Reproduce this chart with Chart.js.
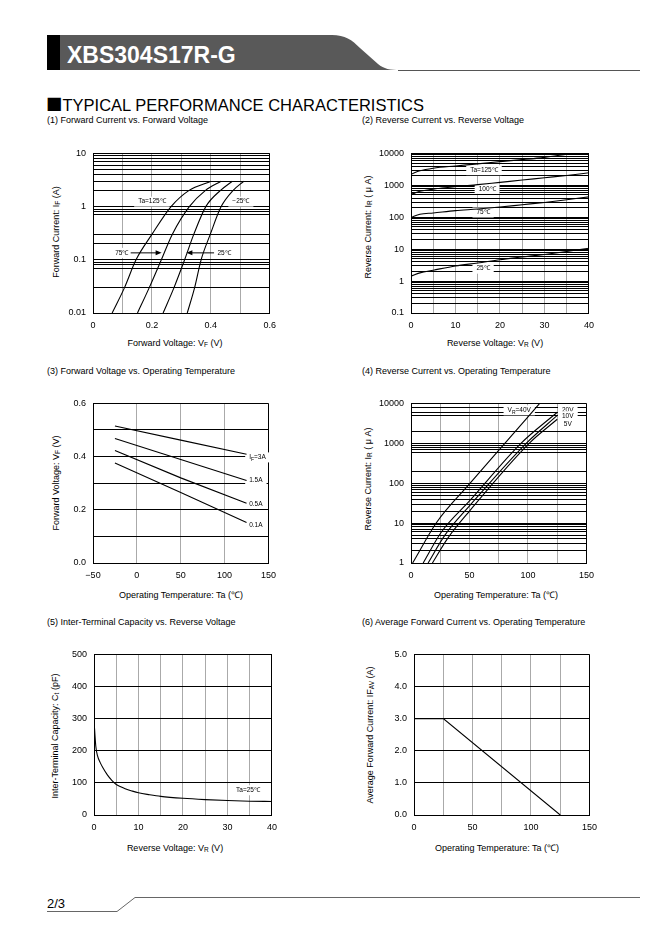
<!DOCTYPE html>
<html>
<head>
<meta charset="utf-8">
<script src="https://cdn.jsdelivr.net/npm/chart.js@4.4.1/dist/chart.umd.min.js"></script>
<style>
body { margin: 0; background: #fff; font-family: "Liberation Sans", Arial, sans-serif; color: #000; }
#page { position: relative; width: 662px; height: 936px; overflow: hidden; }
.t { position: absolute; white-space: nowrap; font-size: 9px; line-height: 1; }
.xt { transform: translate(-50%, -50%); }
.yt { transform: translate(-50%, -50%) rotate(-90deg); }
.sq { font-family: "Noto Sans CJK JP", "DejaVu Sans", sans-serif; }
sub { font-size: 6.5px; vertical-align: -1px; line-height: 0; }
canvas { position: absolute; }
</style>
</head>
<body>
<div id="page">
<svg width="662" height="936" style="position:absolute;left:0;top:0">
  <path d="M47 35 H332 C345 35 352 40 360 48 L378 64 C384 69 390 70 400 70 H47 Z" fill="#595959"/>
  <rect x="47" y="35" width="13" height="35" fill="#000"/>
  <line x1="398" y1="70.5" x2="640" y2="70.5" stroke="#555" stroke-width="1"/>
  <polyline points="47,911.5 117,911.5 135,897.5 640,897.5" fill="none" stroke="#666" stroke-width="1"/>
</svg>
<div class="t" style="left:67px;top:44px;font-size:23px;font-weight:bold;color:#fff">XBS304S17R-G</div>
<div class="t" style="left:46px;top:96px;font-size:16.5px"><span class="sq">■</span>TYPICAL PERFORMANCE CHARACTERISTICS</div>

<div class="t" style="left:47px;top:116px">(1) Forward Current vs. Forward Voltage</div>
<div class="t" style="left:362px;top:116px">(2) Reverse Current vs. Reverse Voltage</div>
<div class="t" style="left:47px;top:367px">(3) Forward Voltage vs. Operating Temperature</div>
<div class="t" style="left:362px;top:367px">(4) Reverse Current vs. Operating Temperature</div>
<div class="t" style="left:47px;top:618px">(5) Inter-Terminal Capacity vs. Reverse Voltage</div>
<div class="t" style="left:362px;top:618px">(6) Average Forward Current vs. Operating Temperature</div>

<div class="t yt" style="left:56px;top:232px">Forward Current: I<sub>F</sub> (A)</div>
<div class="t xt" style="left:175px;top:343px">Forward Voltage: V<sub>F</sub> (V)</div>
<div class="t yt" style="left:368px;top:227px">Reverse Current: I<sub>R</sub> ( μ A)</div>
<div class="t xt" style="left:495px;top:343px">Reverse Voltage: V<sub>R</sub> (V)</div>
<div class="t yt" style="left:56px;top:483px">Forward Voltage: V<sub>F</sub> (V)</div>
<div class="t xt" style="left:181px;top:595px">Operating Temperature: Ta (℃)</div>
<div class="t yt" style="left:368px;top:479px">Reverse Current: I<sub>R</sub> ( μ A)</div>
<div class="t xt" style="left:496px;top:595px">Operating Temperature: Ta (℃)</div>
<div class="t yt" style="left:55px;top:736px">Inter-Terminal Capacity: C<sub>t</sub> (pF)</div>
<div class="t xt" style="left:175px;top:848px">Reverse Voltage: V<sub>R</sub> (V)</div>
<div class="t yt" style="left:370px;top:735px">Average Forward Current: IF<sub>AV</sub> (A)</div>
<div class="t xt" style="left:497px;top:848px">Operating Temperature: Ta (℃)</div>

<div class="t" style="left:47px;top:897px;font-size:13px">2/3</div>

<canvas id="c1"></canvas>
<canvas id="c2"></canvas>
<canvas id="c3"></canvas>
<canvas id="c4"></canvas>
<canvas id="c5"></canvas>
<canvas id="c6"></canvas>
</div>

<script>
// (1) Forward current vs forward voltage, currents shared by all curves
const fvCurrent  = [0.01, 0.03, 0.1, 0.3, 1, 2, 3];
const fvVolt125  = [0.065, 0.107, 0.146, 0.2, 0.265, 0.325, 0.401];
const fvVolt75   = [0.151, 0.191, 0.232, 0.269, 0.327, 0.381, 0.435];
const fvVolt25   = [0.238, 0.275, 0.311, 0.342, 0.383, 0.432, 0.473];
const fvVoltM25  = [0.32, 0.345, 0.367, 0.398, 0.435, 0.475, 0.512];
const fvXTicks   = [0, 0.1, 0.2, 0.3, 0.4, 0.5, 0.6];
const fvXLabels  = [0, 0.2, 0.4, 0.6];
const fvYTicks   = [0.01, 0.03, 0.07, 0.08, 0.09, 0.1, 0.2, 0.3, 0.7, 0.8, 0.9, 1, 2, 3, 4, 5, 6, 7, 8, 9, 10];
const fvYLabels  = [0.01, 0.1, 1, 10];

// (2) Reverse current (uA) vs reverse voltage
const rvVolt     = [0, 2, 5, 10, 15, 20, 25, 30, 35, 40];
const rv125      = [2240, 2850, 3440, 4050, 4690, 5520, 6370, 7520, 9500];
const rv100      = [515, 650, 760, 910, 1050, 1240, 1460, 1730, 2040, 2470];
const rv75       = [98, 124, 136, 161, 181, 209, 247, 291, 352, 436];
const rv25       = [1.43, 1.81, 2.19, 2.98, 3.69, 4.68, 5.66, 6.84, 8.47, 10.7];
const rvXTicks   = [0, 5, 10, 15, 20, 25, 30, 35, 40];
const rvXLabels  = [0, 10, 20, 30, 40];
const rvYLabels  = [0.1, 1, 10, 100, 1000, 10000];

// (3) Forward voltage vs operating temperature
const vtTemp     = [-25, 50, 125];
const vt3A       = [0.515, 0.462, 0.409];
const vt15A      = [0.468, 0.389, 0.310];
const vt05A      = [0.423, 0.320, 0.225];
const vt01A      = [0.376, 0.265, 0.152];
const vtXTicks   = [-50, 0, 50, 100, 150];
const vtYTicks   = [0, 0.1, 0.2, 0.3, 0.4, 0.5, 0.6];
const vtYLabels  = [0, 0.2, 0.4, 0.6];

// (4) Reverse current (uA) vs operating temperature
const rtTemp40   = [1.4, 22, 50, 80, 110];
const rt40       = [1, 10.5, 96, 980, 10000];
const rtTemp20   = [10.4, 26, 50, 94, 125];
const rt20       = [1, 6, 36, 1000, 6000];
const rtTemp10   = [14.6, 29, 50, 98.5, 125];
const rt10       = [1, 5, 27, 1000, 5000];
const rtTemp5    = [18.3, 31.5, 50, 101, 125];
const rt5        = [1, 4.2, 20, 1000, 4000];
const rtXTicks   = [0, 25, 50, 75, 100, 125, 150];
const rtXLabels  = [0, 50, 100, 150];
const rtYTicks   = [1, 2, 3, 4, 5, 6, 7, 8, 9, 10, 20, 30, 40, 50, 60, 70, 80, 90, 100, 200, 600, 700, 800, 900, 1000, 2000, 5000, 6000, 8000, 10000];
const rtYLabels  = [1, 10, 100, 1000, 10000];

// (5) Inter-terminal capacity vs reverse voltage
const ctVolt     = [0, 0.4, 0.8, 1.4, 2, 3, 4, 5, 6, 7, 8.5, 10, 12.5, 15, 20, 25, 30, 35, 40];
const ctCap      = [295, 215, 184, 163, 147, 125, 108, 95, 88, 82, 75, 69, 63, 58, 52, 48, 45, 43, 42];
const ctXTicks   = [0, 5, 10, 15, 20, 25, 30, 35, 40];
const ctXLabels  = [0, 10, 20, 30, 40];
const ctYTicks   = [0, 100, 200, 300, 400, 500];

// (6) Average forward current vs operating temperature
const ifTemp     = [0, 25, 125];
const ifAvg      = [3.0, 3.0, 0.0];
const ifXTicks   = [0, 25, 50, 75, 100, 125, 150];
const ifXLabels  = [0, 50, 100, 150];
const ifYTicks   = [0, 1, 2, 3, 4, 5];

const FONT = '"Liberation Sans", Arial, sans-serif';
Chart.defaults.font.family = FONT;

function near(list, v) {
  return list.some(a => Math.abs(a - v) <= Math.abs(a) * 1e-6 + 1e-9);
}

// minor log grid: 1..9 inside every decade
function decadeLines(decades) {
  const out = [];
  decades.forEach((d, i) => {
    if (i === decades.length - 1) { out.push(d); return; }
    for (let k = 1; k < 10; k++) out.push(d * k);
  });
  return out;
}

function richText(s) {
  const out = [];
  s.split(/(_\{[^}]*\})/).forEach(p => {
    if (!p) return;
    if (p.startsWith('_{')) out.push({ t: p.slice(2, -1), sub: true });
    else out.push({ t: p, sub: false });
  });
  return out;
}

// curve labels in data coordinates, white box under them
function notesPlugin(items) {
  return {
    id: 'notes',
    beforeDatasetsDraw(chart) {
      const ctx = chart.ctx, sx = chart.scales.x, sy = chart.scales.y;
      const big = '6.5px ' + FONT, small = '5px ' + FONT;
      ctx.save();
      items.forEach(n => {
        const segs = richText(n.text);
        let w = 0;
        segs.forEach(s => { ctx.font = s.sub ? small : big; s.w = ctx.measureText(s.t).width; w += s.w; });
        const px = sx.getPixelForValue(n.x), py = sy.getPixelForValue(n.y);
        const x0 = n.align === 'left' ? px : px - w / 2;
        ctx.fillStyle = '#fff';
        ctx.fillRect(x0 - 4, py - 5, w + 8, 10);
        ctx.fillStyle = '#000';
        ctx.textBaseline = 'middle';
        ctx.textAlign = 'left';
        let cx = x0;
        segs.forEach(s => { ctx.font = s.sub ? small : big; ctx.fillText(s.t, cx, s.sub ? py + 2 : py); cx += s.w; });
        if (n.arrowFrom !== undefined) {
          const a = sx.getPixelForValue(n.arrowFrom), b = sx.getPixelForValue(n.arrowTo);
          const dir = b > a ? 1 : -1;
          ctx.strokeStyle = '#000';
          ctx.lineWidth = 1;
          ctx.beginPath(); ctx.moveTo(a, py); ctx.lineTo(b - dir * 4, py); ctx.stroke();
          ctx.beginPath(); ctx.moveTo(b, py); ctx.lineTo(b - dir * 6, py - 2.5); ctx.lineTo(b - dir * 6, py + 2.5); ctx.closePath(); ctx.fill();
        }
      });
      ctx.restore();
    }
  };
}

function axis(pos, type, min, max, lines, labels, fmt) {
  const isX = pos === 'bottom';
  return {
    type: type, position: pos, min: min, max: max,
    afterBuildTicks: s => { s.ticks = lines.map(v => ({ value: v })); },
    afterFit: s => { if (isX) s.height = 20; else s.width = 50; },
    ticks: {
      autoSkip: false, maxRotation: 0, minRotation: 0, padding: 7, color: '#000',
      font: { size: 9, family: FONT },
      callback: v => near(labels, v) ? fmt(v) : ''
    },
    grid: {
      drawTicks: false, lineWidth: 1,
      color: c => {
        const v = c.tick ? c.tick.value : null;
        if (!isX || near([min, max], v)) return '#000';
        return '#aaa';
      }
    },
    border: { color: '#000', width: 1 }
  };
}

function makeChart(id, area, o) {
  const cv = document.getElementById(id);
  cv.width = area.w + 62;
  cv.height = area.h + 30;
  cv.style.left = (area.x - 50) + 'px';
  cv.style.top = (area.y - 10) + 'px';
  return new Chart(cv, {
    type: 'scatter',
    data: {
      datasets: o.series.map(s => ({
        data: s.x.map((x, i) => ({ x: x, y: s.y[i] })),
        showLine: true, borderColor: '#000', borderWidth: 1.1, pointRadius: 0,
        cubicInterpolationMode: o.smooth ? 'monotone' : 'default', tension: 0
      }))
    },
    options: {
      responsive: false, animation: false, events: [],
      layout: { padding: { top: 10, right: 12, left: 0, bottom: 0 } },
      plugins: { legend: { display: false }, tooltip: { enabled: false } },
      scales: { x: o.x, y: o.y }
    },
    plugins: [notesPlugin(o.notes || [])]
  });
}

const plain = v => String(v);
const one = v => v.toFixed(1);
const minus = v => String(v).replace('-', '\u2212');

makeChart('c1', { x: 93, y: 151, w: 178, h: 162 }, {
  smooth: true,
  series: [
    { x: fvVolt125, y: fvCurrent }, { x: fvVolt75, y: fvCurrent },
    { x: fvVolt25, y: fvCurrent }, { x: fvVoltM25, y: fvCurrent }
  ],
  x: axis('bottom', 'linear', 0, 0.6, fvXTicks, fvXLabels, plain),
  y: axis('left', 'logarithmic', 0.01, 10, fvYTicks, fvYLabels, plain),
  notes: [
    { text: 'Ta=125℃', x: 0.2, y: 1.24 },
    { text: '\u221225℃', x: 0.502, y: 1.24 },
    { text: '75℃', x: 0.098, y: 0.135, arrowFrom: 0.128, arrowTo: 0.233 },
    { text: '25℃', x: 0.445, y: 0.135, arrowFrom: 0.411, arrowTo: 0.317 }
  ]
});

makeChart('c2', { x: 411, y: 151, w: 178, h: 162 }, {
  smooth: true,
  series: [
    { x: rvVolt.slice(0, rv125.length), y: rv125 }, { x: rvVolt, y: rv100 },
    { x: rvVolt, y: rv75 }, { x: rvVolt, y: rv25 }
  ],
  x: axis('bottom', 'linear', 0, 40, rvXTicks, rvXLabels, plain),
  y: axis('left', 'logarithmic', 0.1, 10000, decadeLines(rvYLabels), rvYLabels, plain),
  notes: [
    { text: 'Ta=125℃', x: 16.4, y: 2985 },
    { text: '100℃', x: 17.1, y: 776 },
    { text: '75℃', x: 16.2, y: 141 },
    { text: '25℃', x: 16.2, y: 2.45 }
  ]
});

makeChart('c3', { x: 93, y: 401, w: 178, h: 162 }, {
  smooth: false,
  series: [
    { x: vtTemp, y: vt3A }, { x: vtTemp, y: vt15A },
    { x: vtTemp, y: vt05A }, { x: vtTemp, y: vt01A }
  ],
  x: axis('bottom', 'linear', -50, 150, vtXTicks, vtXTicks, minus),
  y: axis('left', 'linear', 0, 0.6, vtYTicks, vtYLabels, one),
  notes: [
    { text: 'I_{F}=3A', x: 128, y: 0.397, align: 'left' },
    { text: '1.5A', x: 128, y: 0.31, align: 'left' },
    { text: '0.5A', x: 128, y: 0.222, align: 'left' },
    { text: '0.1A', x: 128, y: 0.141, align: 'left' }
  ]
});

makeChart('c4', { x: 411, y: 401, w: 178, h: 162 }, {
  smooth: true,
  series: [
    { x: rtTemp40, y: rt40 }, { x: rtTemp20, y: rt20 },
    { x: rtTemp10, y: rt10 }, { x: rtTemp5, y: rt5 }
  ],
  x: axis('bottom', 'linear', 0, 150, rtXTicks, rtXLabels, plain),
  y: axis('left', 'logarithmic', 1, 10000, rtYTicks, rtYLabels, plain),
  notes: [
    { text: 'V_{R}=40V', x: 92.5, y: 6700 },
    { text: '20V', x: 134, y: 6700 },
    { text: '10V', x: 134, y: 4780 },
    { text: '5V', x: 134, y: 3030 }
  ]
});

makeChart('c5', { x: 94, y: 652, w: 178, h: 163 }, {
  smooth: true,
  series: [{ x: ctVolt, y: ctCap }],
  x: axis('bottom', 'linear', 0, 40, ctXTicks, ctXLabels, plain),
  y: axis('left', 'linear', 0, 500, ctYTicks, ctYTicks, plain),
  notes: [{ text: 'Ta=25℃', x: 34.6, y: 77 }]
});

makeChart('c6', { x: 414, y: 652, w: 178, h: 163 }, {
  smooth: false,
  series: [{ x: ifTemp, y: ifAvg }],
  x: axis('bottom', 'linear', 0, 150, ifXTicks, ifXLabels, plain),
  y: axis('left', 'linear', 0, 5, ifYTicks, ifYTicks, one)
});
</script>
</body>
</html>
